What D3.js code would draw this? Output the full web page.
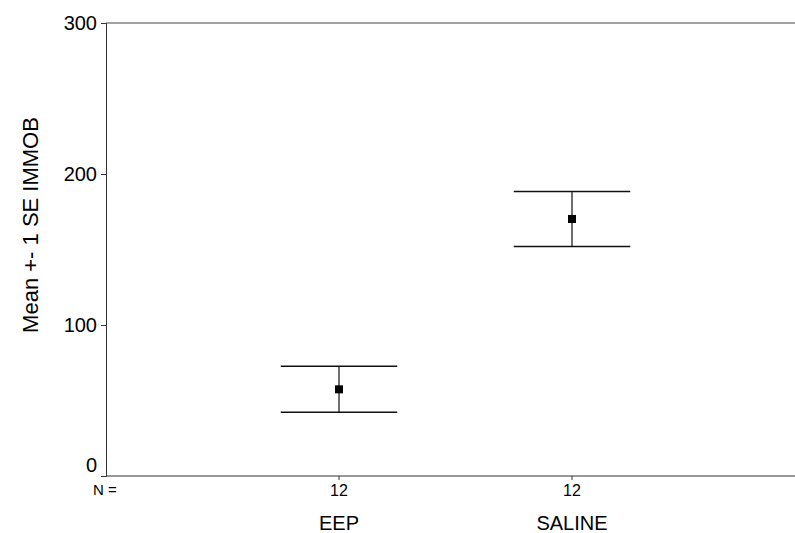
<!DOCTYPE html>
<html>
<head>
<meta charset="utf-8">
<script src="https://cdn.jsdelivr.net/npm/d3@7"></script>
<style>
  body { margin: 0; background: #fff; overflow: hidden; }
  text { font-family: "Liberation Sans", Arial, sans-serif; fill: #000; }
</style>
</head>
<body>
<svg id="chart" width="795" height="533"></svg>
<script>
// data
const groups = ['EEP', 'SALINE'];
const counts = [12, 12];
const means = [57.4, 170.2];
const se = [15.2, 18.2];
const yTicks = [0, 100, 200, 300];

const width = 795;
const height = 533;
const margin = { left: 106, top: 23, bottom: 476 };

const svg = d3.select('#chart');

// group positions: slots 1 and 2 of 0..3
const x = d3.scaleLinear().domain([0, 3]).range([margin.left, 805]);
const step = x(1) - x(0);
const y = d3.scaleLinear().domain([0, 300]).range([margin.bottom, margin.top]);

// frame: left axis, top and bottom lines (no right edge)
svg.append('line')
  .attr('x1', margin.left).attr('x2', width)
  .attr('y1', margin.top).attr('y2', margin.top)
  .attr('stroke', '#444').attr('stroke-width', 1);

svg.append('line')
  .attr('x1', margin.left).attr('x2', width)
  .attr('y1', margin.bottom).attr('y2', margin.bottom)
  .attr('stroke', '#333').attr('stroke-width', 1.2);

// y axis
const yAxis = d3.axisLeft(y).tickValues(yTicks).tickSize(5).tickPadding(4);
const gy = svg.append('g')
  .attr('transform', `translate(${margin.left},0)`)
  .call(yAxis);
gy.select('.domain').attr('stroke', '#333');
gy.selectAll('.tick line').attr('stroke', '#333');
gy.selectAll('.tick text')
  .style('font-size', '20px')
  .attr('dy', d => d === 0 ? '-0.25em' : '0.34em');

// y axis title
svg.append('text')
  .attr('transform', 'translate(30,225) rotate(-90)')
  .attr('text-anchor', 'middle')
  .attr('dy', '0.35em')
  .style('font-size', '22px')
  .text('Mean +- 1 SE IMMOB');

// x ticks, counts and group labels
const xg = svg.append('g').selectAll('g')
  .data(groups)
  .enter().append('g')
    .attr('transform', (d, i) => `translate(${x(i + 1)},0)`);

xg.append('line')
  .attr('y1', margin.bottom).attr('y2', margin.bottom + 4)
  .attr('stroke', '#333');

xg.append('text')
  .attr('y', margin.bottom + 14)
  .attr('text-anchor', 'middle')
  .attr('dy', '0.35em')
  .style('font-size', '16px')
  .text((d, i) => counts[i]);

xg.append('text')
  .attr('y', margin.bottom + 47)
  .attr('text-anchor', 'middle')
  .attr('dy', '0.35em')
  .style('font-size', '20px')
  .text(d => d);

svg.append('text')
  .attr('x', 93)
  .attr('y', margin.bottom + 14)
  .attr('dy', '0.35em')
  .style('font-size', '15px')
  .text('N =');

// error bars
const bars = svg.append('g').selectAll('g')
  .data(groups)
  .enter().append('g');

bars.append('line')
  .attr('x1', (d, i) => x(i + 1)).attr('x2', (d, i) => x(i + 1))
  .attr('y1', (d, i) => y(means[i] + se[i]))
  .attr('y2', (d, i) => y(means[i] - se[i]))
  .attr('stroke', '#222').attr('stroke-width', 1.3);

[1, -1].forEach(sign => {
  bars.append('line')
    .attr('x1', (d, i) => x(i + 1) - step / 4)
    .attr('x2', (d, i) => x(i + 1) + step / 4)
    .attr('y1', (d, i) => y(means[i] + sign * se[i]))
    .attr('y2', (d, i) => y(means[i] + sign * se[i]))
    .attr('stroke', '#111').attr('stroke-width', 1.5);
});

bars.append('rect')
  .attr('x', (d, i) => x(i + 1) - 4)
  .attr('y', (d, i) => y(means[i]) - 4)
  .attr('width', 8).attr('height', 8)
  .attr('fill', '#000');
</script>
</body>
</html>
